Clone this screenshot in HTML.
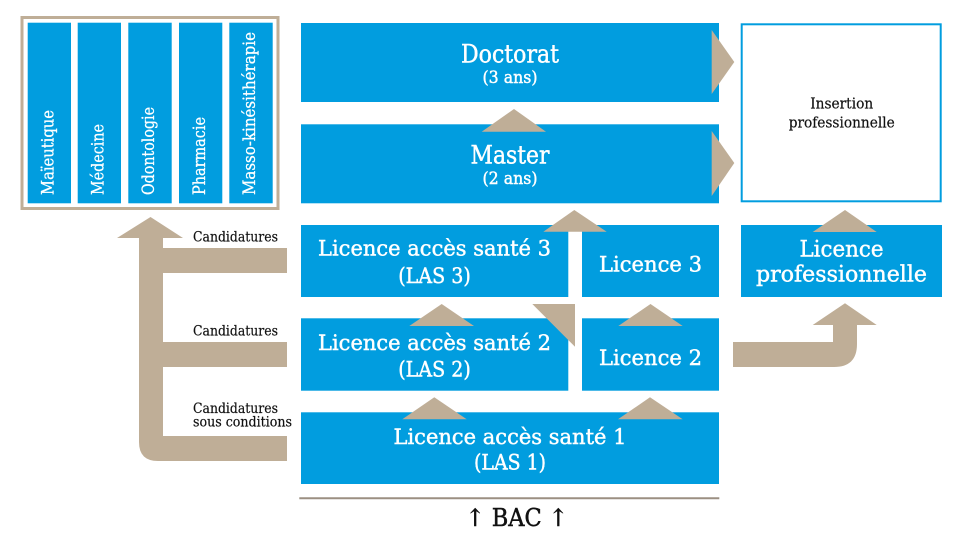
<!DOCTYPE html>
<html>
<head>
<meta charset="utf-8">
<style>
html,body{margin:0;padding:0;background:#fff;}
svg{display:block;}
text{font-family:"DejaVu Serif","Liberation Serif",serif;}
</style>
</head>
<body>
<svg width="960" height="541" viewBox="0 0 960 541" xmlns="http://www.w3.org/2000/svg">
  <!-- left frame -->
  <rect x="22" y="17.5" width="256" height="191" fill="#fff" stroke="#bfae97" stroke-width="3"/>
  <g fill="#019ddf">
    <rect x="27.7" y="22.7" width="43.3" height="180.6"/>
    <rect x="77.7" y="22.7" width="43.3" height="180.6"/>
    <rect x="128.3" y="22.7" width="43.4" height="180.6"/>
    <rect x="179" y="22.7" width="43.3" height="180.6"/>
    <rect x="229.3" y="22.7" width="43.4" height="180.6"/>
  </g>
  <g fill="#fff" stroke="#fff" stroke-width="0.3" font-size="16.5" lengthAdjust="spacingAndGlyphs">
    <text transform="translate(53.5,195) rotate(-90)" textLength="85" lengthAdjust="spacingAndGlyphs">Maïeutique</text>
    <text transform="translate(103.5,195) rotate(-90)" textLength="71" lengthAdjust="spacingAndGlyphs">Médecine</text>
    <text transform="translate(154.2,195) rotate(-90)" textLength="88" lengthAdjust="spacingAndGlyphs">Odontologie</text>
    <text transform="translate(204.9,195) rotate(-90)" textLength="78" lengthAdjust="spacingAndGlyphs">Pharmacie</text>
    <text transform="translate(255.2,195) rotate(-90)" textLength="163" lengthAdjust="spacingAndGlyphs">Masso-kinésithérapie</text>
  </g>

  <!-- left arrow -->
  <path fill="#bfae97" d="M117,238 L150.5,217 L183,238 L163,238 L163,248 L287,248 L287,273 L163,273 L163,342 L287,342 L287,367 L163,367 L163,436 L287,436 L287,461 L158,461 Q139,461 139,442 L139,238 Z"/>
  <g fill="#111" stroke="#111" stroke-width="0.2" font-size="14">
    <text x="193" y="241.5" textLength="85" lengthAdjust="spacingAndGlyphs">Candidatures</text>
    <text x="193" y="335.5" textLength="85" lengthAdjust="spacingAndGlyphs">Candidatures</text>
    <text x="193" y="413" textLength="85" lengthAdjust="spacingAndGlyphs">Candidatures</text>
    <text x="193" y="426.7" textLength="99" lengthAdjust="spacingAndGlyphs">sous conditions</text>
  </g>

  <!-- blue boxes -->
  <g fill="#019ddf">
    <rect x="301" y="23" width="418" height="79"/>
    <rect x="301" y="124.3" width="418" height="79"/>
    <rect x="301" y="225" width="267.3" height="72"/>
    <rect x="582" y="225" width="137" height="72"/>
    <rect x="301" y="318.3" width="267.3" height="72.4"/>
    <rect x="582" y="318.3" width="137" height="72.4"/>
    <rect x="301" y="412.3" width="418" height="71.7"/>
    <rect x="741" y="225" width="201" height="72"/>
  </g>
  <!-- insertion box -->
  <rect x="741.7" y="24.3" width="199" height="177" fill="#fff" stroke="#019ddf" stroke-width="2"/>

  <!-- tan triangles -->
  <g fill="#bfae97">
    <polygon points="711.7,30 734.3,62 711.7,94"/>
    <polygon points="711.7,131 734.3,163 711.7,196"/>
    <polygon points="481.7,131.7 514,109 546,131.7"/>
    <polygon points="543.3,231.7 574.3,210 606.7,231.7"/>
    <polygon points="409.3,326 441.7,304 474,326"/>
    <polygon points="618.3,326 650.5,304 682.7,326"/>
    <polygon points="532.3,304 575,304 575,346.7"/>
    <polygon points="402.3,419.3 434.3,397.3 466.7,419.3"/>
    <polygon points="618,419.3 650,397.3 682.7,419.3"/>
    <polygon points="812.7,232 845,210 876.7,232"/>
    <path d="M733,342 L833,342 L833,325 L812.7,325 L845,303.3 L876.7,325 L857,325 L857,344 Q857,367 834,367 L733,367 Z"/>
  </g>

  <!-- box texts -->
  <g fill="#fff" stroke="#fff" stroke-width="0.45" text-anchor="middle">
    <text x="510" y="62.3" font-size="25" textLength="98" lengthAdjust="spacingAndGlyphs">Doctorat</text>
    <text x="510" y="83" font-size="17" textLength="55" lengthAdjust="spacingAndGlyphs">(3 ans)</text>
    <text x="510" y="163.3" font-size="25" textLength="79" lengthAdjust="spacingAndGlyphs">Master</text>
    <text x="510" y="184" font-size="17" textLength="55" lengthAdjust="spacingAndGlyphs">(2 ans)</text>

    <text x="434.5" y="255.5" font-size="21.5" textLength="233" lengthAdjust="spacingAndGlyphs">Licence accès santé 3</text>
    <text x="434.5" y="283" font-size="21.5" textLength="72.5" lengthAdjust="spacingAndGlyphs">(LAS 3)</text>
    <text x="650.5" y="271.7" font-size="21.5" textLength="103" lengthAdjust="spacingAndGlyphs">Licence 3</text>

    <text x="434.5" y="350" font-size="21.5" textLength="233" lengthAdjust="spacingAndGlyphs">Licence accès santé 2</text>
    <text x="434.5" y="376.5" font-size="21.5" textLength="72.5" lengthAdjust="spacingAndGlyphs">(LAS 2)</text>
    <text x="650.5" y="365" font-size="21.5" textLength="103" lengthAdjust="spacingAndGlyphs">Licence 2</text>

    <text x="510" y="444" font-size="21.5" textLength="233" lengthAdjust="spacingAndGlyphs">Licence accès santé 1</text>
    <text x="510" y="469.5" font-size="21.5" textLength="72" lengthAdjust="spacingAndGlyphs">(LAS 1)</text>

    <text x="841.5" y="256.7" font-size="22.5" textLength="84" lengthAdjust="spacingAndGlyphs">Licence</text>
    <text x="841.5" y="281.7" font-size="22.5" textLength="171" lengthAdjust="spacingAndGlyphs">professionnelle</text>
  </g>
  <g fill="#111" stroke="#111" stroke-width="0.2" text-anchor="middle" font-size="15">
    <text x="841.7" y="108.3" textLength="63" lengthAdjust="spacingAndGlyphs">Insertion</text>
    <text x="841.7" y="127.7" textLength="106" lengthAdjust="spacingAndGlyphs">professionnelle</text>
  </g>

  <!-- bottom line and BAC -->
  <line x1="299.3" y1="498.3" x2="719.3" y2="498.3" stroke="#9b8f82" stroke-width="2"/>
  <text x="516.7" y="526" text-anchor="middle" font-size="24" fill="#111" stroke="#111" stroke-width="0.5" textLength="102" lengthAdjust="spacingAndGlyphs">↑ BAC ↑</text>
</svg>
</body>
</html>
